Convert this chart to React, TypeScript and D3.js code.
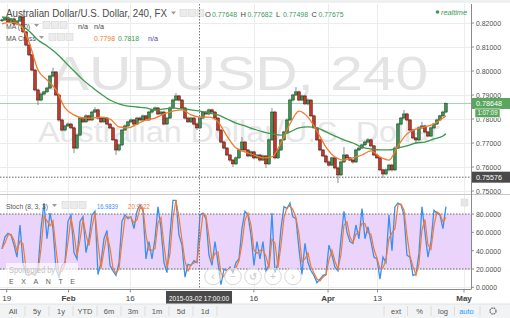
import React from 'react';
import * as d3 from 'd3';

// ---------- DATA ----------
const firstOpen = 0.8209;
const closes = [
  0.8213, 0.8221, 0.8204, 0.8217, 0.8196, 0.8208, 0.8225, 0.8163, 0.8108, 0.8067,
  0.8004, 0.7921, 0.7879, 0.7904, 0.7913, 0.7929, 0.7979, 0.7996, 0.7900, 0.7796,
  0.7754, 0.7771, 0.7779, 0.7763, 0.7679, 0.7733, 0.7804, 0.7788, 0.7813, 0.7796,
  0.7829, 0.7838, 0.7804, 0.7788, 0.7804, 0.7779, 0.7763, 0.7713, 0.7671, 0.7692,
  0.7754, 0.7771, 0.7788, 0.7796, 0.7779, 0.7804, 0.7796, 0.7813, 0.7796, 0.7829,
  0.7838, 0.7846, 0.7821, 0.7829, 0.7779, 0.7804, 0.7846, 0.7879, 0.7896, 0.7879,
  0.7846, 0.7804, 0.7788, 0.7804, 0.7779, 0.7763, 0.7804, 0.7829, 0.7821, 0.7838,
  0.7829, 0.7804, 0.7754, 0.7704, 0.7679, 0.7650, 0.7629, 0.7613, 0.7638, 0.7671,
  0.7704, 0.7671, 0.7646, 0.7663, 0.7638, 0.7650, 0.7629, 0.7646, 0.7613, 0.7713,
  0.7829, 0.7638, 0.7671, 0.7713, 0.7746, 0.7796, 0.7879, 0.7900, 0.7913, 0.7879,
  0.7896, 0.7863, 0.7879, 0.7813, 0.7763, 0.7713, 0.7671, 0.7646, 0.7621, 0.7608,
  0.7638, 0.7596, 0.7567, 0.7621, 0.7650, 0.7638, 0.7629, 0.7621, 0.7671, 0.7679,
  0.7692, 0.7704, 0.7713, 0.7688, 0.7650, 0.7638, 0.7588, 0.7571, 0.7588, 0.7608,
  0.7588, 0.7679, 0.7779, 0.7804, 0.7821, 0.7796, 0.7754, 0.7721, 0.7713, 0.7763,
  0.7771, 0.7746, 0.7729, 0.7763, 0.7779, 0.7796, 0.7813, 0.7829, 0.78648,
];
// wick extents beyond the body, in pips (0.0001)
const wickUp = [
  6, 5, 7, 4, 6, 5, 8, 4, 5, 6,
  4, 5, 6, 7, 5, 6, 5, 17, 4, 5,
  6, 5, 7, 5, 4, 8, 6, 5, 7, 5,
  6, 12, 5, 4, 6, 5, 4, 5, 4, 6,
  5, 7, 5, 6, 4, 5, 6, 5, 4, 6,
  5, 6, 4, 5, 6, 5, 7, 6, 12, 5,
  4, 5, 6, 5, 4, 5, 6, 5, 6, 5,
  5, 4, 5, 4, 5, 4, 5, 4, 6, 7,
  21, 5, 4, 6, 5, 4, 5, 6, 4, 6,
  17, 5, 6, 5, 6, 7, 6, 5, 20, 5,
  6, 5, 7, 4, 5, 4, 5, 4, 5, 6,
  5, 4, 6, 5, 33, 5, 4, 6, 5, 7,
  5, 6, 8, 5, 4, 5, 4, 5, 6, 5,
  5, 7, 6, 5, 17, 5, 4, 5, 4, 6,
  17, 5, 4, 6, 5, 6, 5, 6, 4,
];
const wickDown = [
  5, 6, 4, 7, 5, 6, 4, 6, 5, 4,
  5, 6, 21, 5, 6, 4, 5, 6, 5, 7,
  6, 5, 4, 6, 21, 5, 6, 5, 4, 6,
  5, 4, 6, 5, 4, 6, 5, 5, 21, 6,
  5, 4, 6, 5, 7, 4, 5, 6, 4, 5,
  6, 5, 5, 4, 6, 5, 4, 5, 4, 6,
  5, 6, 4, 5, 6, 9, 5, 4, 5, 6,
  4, 5, 6, 5, 6, 5, 7, 13, 5, 4,
  5, 6, 5, 4, 6, 5, 6, 4, 17, 5,
  4, 6, 5, 4, 5, 4, 5, 6, 4, 5,
  5, 4, 6, 5, 4, 5, 6, 5, 7, 6,
  5, 6, 34, 5, 4, 6, 5, 7, 4, 5,
  5, 4, 5, 6, 5, 4, 6, 17, 5, 6,
  7, 5, 4, 5, 6, 5, 4, 5, 17, 5,
  5, 6, 5, 4, 5, 4, 5, 4, 5,
];
// moving averages read every 3rd bar (last value = last bar)
const maFast = [
  0.8196, 0.8204, 0.8192, 0.8121, 0.8004, 0.7963, 0.7921, 0.7846, 0.7817, 0.7804,
  0.7804, 0.7808, 0.7800, 0.7767, 0.7763, 0.7779, 0.7796, 0.7804, 0.7821, 0.7833,
  0.7838, 0.7817, 0.7808, 0.7808, 0.7788, 0.7729, 0.7679, 0.7663, 0.7650, 0.7638,
  0.7642, 0.7700, 0.7779, 0.7833, 0.7808, 0.7750, 0.7683, 0.7642, 0.7629, 0.7638,
  0.7650, 0.7667, 0.7642, 0.7629, 0.7688, 0.7738, 0.7758, 0.7767, 0.7779, 0.7804,
  0.7813,
];
const maSlow = [
  0.8225, 0.8217, 0.8192, 0.8167, 0.8129, 0.8104, 0.8075, 0.8038, 0.8000, 0.7963,
  0.7933, 0.7904, 0.7879, 0.7863, 0.7854, 0.7850, 0.7846, 0.7838, 0.7842, 0.7846,
  0.7842, 0.7838, 0.7833, 0.7825, 0.7817, 0.7800, 0.7783, 0.7771, 0.7758, 0.7746,
  0.7738, 0.7733, 0.7746, 0.7763, 0.7767, 0.7763, 0.7746, 0.7729, 0.7713, 0.7700,
  0.7683, 0.7675, 0.7671, 0.7671, 0.7679, 0.7688, 0.7700, 0.7704, 0.7717, 0.7729,
  0.7738,
];
const stochK = [
  42, 55, 59, 57, 46, 33, 68, 27, 14, 13,
  16, 13, 20, 64, 92, 53, 81, 64, 20, 11,
  24, 27, 72, 79, 38, 31, 72, 77, 38, 53,
  79, 83, 14, 27, 53, 62, 24, 18, 13, 27,
  72, 79, 75, 77, 64, 83, 90, 83, 31, 50,
  31, 53, 88, 64, 27, 16, 57, 95, 95, 57,
  46, 11, 25, 24, 29, 27, 79, 81, 75, 35,
  24, 50, 27, 3, 20, 18, 22, 16, 27, 31,
  64, 83, 79, 57, 24, 50, 31, 50, 18, 24,
  81, 16, 27, 64, 88, 86, 92, 77, 75, 42,
  14, 48, 27, 18, 13, 5, 9, 13, 14, 46,
  35, 22, 18, 53, 83, 60, 50, 48, 68, 53,
  86, 53, 66, 50, 33, 31, 9, 33, 27, 79,
  40, 88, 92, 90, 79, 35, 33, 13, 14, 37,
  88, 60, 33, 50, 84, 81, 79, 64, 88,
];
const priceTicks = [0.75, 0.76, 0.77, 0.78, 0.79, 0.80, 0.81, 0.82];
const stochTicks = [0, 20, 40, 60, 80];
const timeTickLabels = ['19', 'Feb', '16', '16', 'Apr', '13', 'May'];
const timeTickDays = [0, 10, 20, 40, 52, 60, 74];
const timeTickBold = [false, true, false, false, true, false, true];
const toolbarLeft = ['All', '5y', '1y', 'YTD', '6m', '3m', '1m', '5d', '1d'];
const toolbarRight = ['ext', '%', 'log', 'auto'];
const ohlcLabels = ['O', 'H', 'L', 'C'];
const ohlcValues = ['0.77648', '0.77682', '0.77498', '0.77675'];
const lastPrice = 0.78648;
const crossPrice = 0.75576;
const crossDay = 31.12;
const crossLabel = '2015-03-02 17:00:00';
const countdown = '1:07:09';
const maCrossValues = ['0.7798', '0.7818', 'n/a'];
const stochValues = ['16.9839', '20.9622'];

// ---------- LAYOUT ----------
const W = 510;
const H = 318;
const PR = 471; // right edge of panes
const MAIN_TOP = 4;
const MAIN_BOT = 194;
const ST_TOP = 195;
const ST_BOT = 289.5;
const FONT = "'Liberation Sans', Arial, sans-serif";

const xDay = d3.scaleLinear().domain([0, 74]).range([6.7, 464]);
const barDay = (i: number) => -0.76 + i * 0.4854;
const yP = d3.scaleLinear().domain([0.75, 0.82]).range([191, 23]);
const yS = d3.scaleLinear().domain([0, 100]).range([287.3, 195.7]);

const UP_FILL = '#3f9352';
const UP_STROKE = '#1d4a28';
const DN_FILL = '#c0392b';
const DN_STROKE = '#561711';
const ORANGE = '#f6792c';
const GREEN = '#3a9a4d';
const BLUE = '#3b8ff0';
const ADJ = 'spacingAndGlyphs';

function SmallBoxes({ x, y }: { x: number; y: number }) {
  return (
    <g>
      {[0, 1, 2].map((i) => (
        <rect key={i} x={x + i * 8.5} y={y} width={7} height={7} fill="#ececec" stroke="#d5d5d5" strokeWidth={0.6} />
      ))}
    </g>
  );
}

function Caret({ x, y }: { x: number; y: number }) {
  return <path d={`M${x},${y} h5 l-2.5,3 z`} fill="#9a9a9a" />;
}

export default function App() {
  const n = closes.length;
  const candles = closes.map((c, i) => {
    const o = i === 0 ? firstOpen : closes[i - 1];
    const hi = Math.max(o, c) + wickUp[i] * 1e-4;
    const lo = Math.min(o, c) - wickDown[i] * 1e-4;
    return { o, c, hi, lo, x: xDay(barDay(i)) };
  });

  const maPts = (arr: number[]) => arr.map((v, j) => [xDay(barDay(Math.min(j * 3, n - 1))), yP(v)] as [number, number]);
  const lineGen = d3.line<[number, number]>().curve(d3.curveMonotoneX);
  const fastPath = lineGen(maPts(maFast)) || '';
  const slowPath = lineGen(maPts(maSlow)) || '';

  const stochD = stochK.map((_, i) => d3.mean(stochK.slice(Math.max(0, i - 1), i + 1)) as number);
  const stLine = d3
    .line<number>()
    .x((_, i) => xDay(barDay(i)))
    .y((v) => yS(v))
    .curve(d3.curveLinear);

  const crossX = xDay(crossDay);

  return (
    <div style={{ position: 'absolute', left: 0, top: 0 }}>
      <svg width={W} height={H} style={{ display: 'block' }} fontFamily={FONT}>
        <defs>
          <clipPath id="mainClip">
            <rect x={0} y={MAIN_TOP} width={PR} height={MAIN_BOT - MAIN_TOP} />
          </clipPath>
          <clipPath id="stClip">
            <rect x={0} y={ST_TOP} width={PR} height={ST_BOT - ST_TOP} />
          </clipPath>
        </defs>
        <rect x={0} y={0} width={W} height={H} fill="#ffffff" />
        <rect x={0} y={0} width={W} height={3} fill="#eef0f2" />

        {/* grid */}
        <g stroke="#ececec" strokeWidth={1}>
          {priceTicks.map((p) => (
            <line key={'pg' + p} x1={0} x2={PR} y1={Math.round(yP(p)) + 0.5} y2={Math.round(yP(p)) + 0.5} />
          ))}
          {stochTicks.map((s) => (
            <line key={'sg' + s} x1={0} x2={PR} y1={Math.round(yS(s)) + 0.5} y2={Math.round(yS(s)) + 0.5} />
          ))}
          {timeTickDays.map((d) => (
            <line key={'tg' + d} x1={Math.round(xDay(d)) + 0.5} x2={Math.round(xDay(d)) + 0.5} y1={MAIN_TOP} y2={ST_BOT} />
          ))}
        </g>

        {/* watermarks */}
        <text x={50} y={90} fontSize={48} textLength={378} lengthAdjust={ADJ} fill="#e4e4e4">
          AUDUSD, 240
        </text>
        <text x={38} y={142} fontSize={29} textLength={402} lengthAdjust={ADJ} fill="#e6e6e6">
          Australian Dollar/U.S. Dollar
        </text>

        {/* legends main */}
        <text x={6} y={16.5} fontSize={10.5} fill="#4a4a4a" textLength={161} lengthAdjust={ADJ}>
          Australian Dollar/U.S. Dollar, 240, FX
        </text>
        <Caret x={171} y={11.5} />
        <SmallBoxes x={180} y={9.5} />
        {ohlcLabels.map((l, i) => (
          <g key={l}>
            <text x={205 + i * 35.5} y={16.5} fontSize={7.5} fill="#444">
              {l}
            </text>
            <text x={212 + i * 35.5} y={16.5} fontSize={7} fill="#3c9a5e" textLength={25} lengthAdjust={ADJ}>
              {ohlcValues[i]}
            </text>
          </g>
        ))}
        <circle cx={437.5} cy={12} r={1.8} fill="#3a9a4d" />
        <text x={441} y={14.5} fontSize={7.5} fontStyle="italic" fill="#3a9a4d" textLength={26} lengthAdjust={ADJ}>
          realtime
        </text>

        <text x={6} y={28.5} fontSize={8} fill="#555" textLength={24} lengthAdjust={ADJ}>
          MA (50)
        </text>
        <Caret x={34} y={24} />
        <SmallBoxes x={43} y={21.5} />
        <text x={78} y={28.5} fontSize={8} fill="#444" textLength={10} lengthAdjust={ADJ}>
          n/a
        </text>
        <text x={94} y={28.5} fontSize={8} fill="#444" textLength={10} lengthAdjust={ADJ}>
          n/a
        </text>
        <text x={6} y={40.5} fontSize={8} fill="#555" textLength={30} lengthAdjust={ADJ}>
          MA Cross
        </text>
        <Caret x={39} y={36} />
        <SmallBoxes x={49} y={33.5} />
        <text x={94} y={40.5} fontSize={8} fill={ORANGE} textLength={21} lengthAdjust={ADJ}>
          {maCrossValues[0]}
        </text>
        <text x={118} y={40.5} fontSize={8} fill={GREEN} textLength={21} lengthAdjust={ADJ}>
          {maCrossValues[1]}
        </text>
        <text x={148} y={40.5} fontSize={8} fill="#5a3fa8" textLength={10} lengthAdjust={ADJ}>
          {maCrossValues[2]}
        </text>

        {/* main pane series */}
        <g clipPath="url(#mainClip)">
          <line x1={0} x2={PR} y1={yP(lastPrice)} y2={yP(lastPrice)} stroke="#9fd3a6" strokeWidth={1} />
          {candles.map((d, i) => {
            const up = d.c >= d.o;
            const top = yP(Math.max(d.o, d.c));
            const h = Math.max(0.8, Math.abs(yP(d.o) - yP(d.c)));
            return (
              <g key={i}>
                <line x1={d.x} x2={d.x} y1={yP(d.hi)} y2={yP(d.lo)} stroke="#6d6d6d" strokeWidth={0.8} />
                <rect
                  x={d.x - 1.3}
                  y={top}
                  width={2.6}
                  height={h}
                  fill={up ? UP_FILL : DN_FILL}
                  stroke={up ? UP_STROKE : DN_STROKE}
                  strokeWidth={0.6}
                />
              </g>
            );
          })}
          <path d={slowPath} fill="none" stroke={GREEN} strokeWidth={1.3} />
          <path d={fastPath} fill="none" stroke={ORANGE} strokeWidth={1.3} />
          <line x1={0} x2={PR} y1={yP(crossPrice)} y2={yP(crossPrice)} stroke="#666" strokeWidth={1} strokeDasharray="1.5,1.5" />
        </g>

        {/* stoch pane */}
        <g clipPath="url(#stClip)">
          <rect x={0} y={yS(80)} width={PR} height={yS(20) - yS(80)} fill="#ead4fb" />
          <line x1={0} x2={PR} y1={yS(80)} y2={yS(80)} stroke="#6a6a6a" strokeDasharray="1.5,1.5" />
          <line x1={0} x2={PR} y1={yS(20)} y2={yS(20)} stroke="#6a6a6a" strokeDasharray="1.5,1.5" />
          <path d={stLine(stochK) || ''} fill="none" stroke={BLUE} strokeWidth={1.3} />
          <path d={stLine(stochD) || ''} fill="none" stroke={ORANGE} strokeWidth={1.2} />
          {/* sponsor backdrop */}
          <rect x={6} y={263} width={72} height={24} fill="#ffffff" opacity={0.65} />
          <text x={9} y={273} fontSize={8.5} fill="#c2c2c2" textLength={46} lengthAdjust={ADJ}>
            Sponsored by
          </text>
          <text x={9} y={284} fontSize={7} fill="#5a5a5a" textLength={66} lengthAdjust="spacing">
            EXANTE
          </text>
          {['‹', '−', '↺', '+', '›'].map((s, i) => (
            <g key={s}>
              <circle cx={213 + i * 20} cy={276.5} r={8.3} fill="#ffffff" fillOpacity={0.5} stroke="#d8d8d8" strokeWidth={1} />
              <text x={213 + i * 20} y={280} textAnchor="middle" fontSize={10} fill="#c8c8c8">
                {s}
              </text>
            </g>
          ))}
          <rect x={461} y={199} width={7} height={7} fill="#e6e6e6" stroke="#d6d6d6" strokeWidth={0.5} />
        </g>
        <text x={6} y={208.5} fontSize={8} fill="#555" textLength={42} lengthAdjust={ADJ}>
          Stoch (8, 3, 3)
        </text>
        <Caret x={52} y={204} />
        <SmallBoxes x={62} y={201.5} />
        <text x={97} y={208.5} fontSize={8} fill={BLUE} textLength={21} lengthAdjust={ADJ}>
          {stochValues[0]}
        </text>
        <text x={128} y={208.5} fontSize={8} fill={ORANGE} textLength={22} lengthAdjust={ADJ}>
          {stochValues[1]}
        </text>

        {/* crosshair vertical */}
        <line x1={Math.round(crossX) + 0.5} x2={Math.round(crossX) + 0.5} y1={MAIN_TOP} y2={ST_BOT} stroke="#777" strokeDasharray="1.5,1.5" />

        {/* separators & axes */}
        <line x1={0} x2={W} y1={194.5} y2={194.5} stroke="#c9c9c9" />
        <line x1={0} x2={PR} y1={ST_BOT} y2={ST_BOT} stroke="#8a8a8a" />
        <line x1={PR + 0.5} x2={PR + 0.5} y1={MAIN_TOP} y2={ST_BOT} stroke="#8a8a8a" />

        {/* price axis */}
        {priceTicks.map((p) => (
          <g key={'pt' + p}>
            <line x1={PR} x2={PR + 3} y1={yP(p)} y2={yP(p)} stroke="#8a8a8a" />
            <text x={476} y={yP(p) + 3} fontSize={7.5} fill="#505050" textLength={25} lengthAdjust={ADJ}>
              {p.toFixed(5)}
            </text>
          </g>
        ))}
        <rect x={PR + 1} y={yP(lastPrice) - 5.5} width={W - PR - 1} height={11} fill="#5aa65e" />
        <text x={476} y={yP(lastPrice) + 3} fontSize={8} fill="#ffffff" textLength={26} lengthAdjust={ADJ}>
          {lastPrice.toFixed(5)}
        </text>
        <rect x={475} y={yP(lastPrice) + 5.5} width={25} height={8.5} fill="#5aa65e" stroke="#ffffff" strokeWidth={0.6} />
        <text x={477.5} y={yP(lastPrice) + 11.8} fontSize={6.5} fill="#ffffff" textLength={20} lengthAdjust={ADJ}>
          {countdown}
        </text>
        <rect x={PR + 1} y={yP(crossPrice) - 5.5} width={W - PR - 1} height={11} fill="#4a4a4a" />
        <text x={476} y={yP(crossPrice) + 3} fontSize={8} fill="#ffffff" textLength={26} lengthAdjust={ADJ}>
          {crossPrice.toFixed(5)}
        </text>

        {/* stoch axis */}
        {stochTicks.map((s) => (
          <g key={'st' + s}>
            <line x1={PR} x2={PR + 3} y1={yS(s)} y2={yS(s)} stroke="#8a8a8a" />
            <text x={476} y={yS(s) + 3} fontSize={7.5} fill="#505050" textLength={s ? 25 : 21} lengthAdjust={ADJ}>
              {s.toFixed(4)}
            </text>
          </g>
        ))}

        {/* time axis */}
        {timeTickDays.map((d, i) => (
          <g key={'tt' + i}>
            <line x1={xDay(d)} x2={xDay(d)} y1={ST_BOT} y2={ST_BOT + 3} stroke="#8a8a8a" />
            <text x={xDay(d)} y={301} textAnchor="middle" fontSize={8} fontWeight={timeTickBold[i] ? 'bold' : 'normal'} fill="#444">
              {timeTickLabels[i]}
            </text>
          </g>
        ))}
        <rect x={crossX - 33} y={291} width={66} height={13} fill="#4a4a4a" />
        <text x={crossX - 30} y={300.5} fontSize={8} fill="#ffffff" textLength={60} lengthAdjust={ADJ}>
          {crossLabel}
        </text>

        {/* toolbar */}
        <rect x={0} y={304} width={W} height={14} fill="#f1f3f4" />
        <line x1={0} x2={W} y1={304} y2={304} stroke="#e2e2e2" />
        {toolbarLeft.map((t, i) => (
          <g key={t}>
            <text x={13 + i * 24} y={313.5} textAnchor="middle" fontSize={7.5} fill="#555">
              {t}
            </text>
            <line x1={25 + i * 24} x2={25 + i * 24} y1={306} y2={316} stroke="#dcdcdc" />
          </g>
        ))}
        {toolbarRight.map((t, i) => (
          <g key={t}>
            <text x={396 + i * 23.5} y={313.5} textAnchor="middle" fontSize={7.5} fill={t === 'auto' ? '#2a9df4' : '#555'}>
              {t}
            </text>
            <line x1={384 + i * 23.5} x2={384 + i * 23.5} y1={306} y2={316} stroke="#dcdcdc" />
          </g>
        ))}
        <line x1={480} x2={480} y1={306} y2={316} stroke="#dcdcdc" />
        <circle cx={493} cy={311} r={3} fill="none" stroke="#777" strokeWidth={1.4} strokeDasharray="1.6,0.8" />
      </svg>
    </div>
  );
}
